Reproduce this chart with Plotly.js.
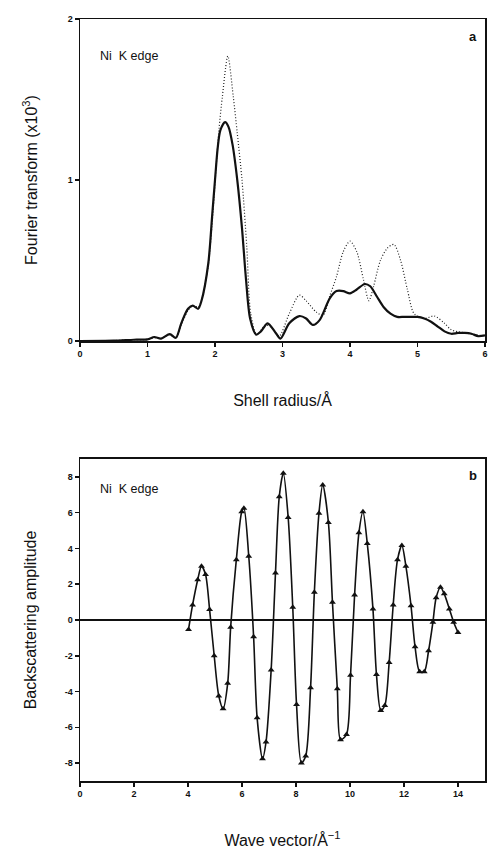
<!DOCTYPE html>
<html>
<head>
<meta charset="utf-8">
<script src="https://cdn.plot.ly/plotly-3.0.1.min.js"></script>
<style>
html,body{margin:0;padding:0;background:#fff;}
#chart{width:488px;height:849px;}
</style>
</head>
<body>
<div id="chart"></div>
<script>
// Panel a: Fourier transform vs shell radius
var solidR = [0, 0.5, 0.8, 1.0, 1.1, 1.2, 1.33, 1.42, 1.5, 1.6, 1.67, 1.75, 1.8, 1.9, 1.96, 2.0, 2.04, 2.08, 2.15, 2.2, 2.26, 2.33, 2.4, 2.46, 2.52, 2.61, 2.68, 2.78, 2.9, 2.97, 3.1, 3.25, 3.35, 3.45, 3.55, 3.7, 3.8, 3.9, 4.0, 4.1, 4.22, 4.3, 4.4, 4.5, 4.6, 4.7, 4.8, 4.9, 5.0, 5.1, 5.2, 5.3, 5.4, 5.5, 5.6, 5.7, 5.8, 5.9, 6.0];
var solidF = [0, 0.002, 0.008, 0.01, 0.025, 0.015, 0.043, 0.02, 0.11, 0.2, 0.22, 0.2, 0.25, 0.48, 0.79, 1.0, 1.2, 1.31, 1.36, 1.33, 1.22, 1.0, 0.7, 0.38, 0.14, 0.04, 0.06, 0.11, 0.05, 0.015, 0.11, 0.155, 0.14, 0.10, 0.13, 0.265, 0.31, 0.31, 0.296, 0.32, 0.354, 0.34, 0.275, 0.21, 0.17, 0.15, 0.15, 0.15, 0.15, 0.14, 0.12, 0.09, 0.06, 0.045, 0.05, 0.05, 0.045, 0.03, 0.035];
var dotR = [0, 0.5, 0.8, 1.0, 1.1, 1.2, 1.33, 1.42, 1.5, 1.6, 1.67, 1.75, 1.8, 1.9, 1.97, 2.02, 2.06, 2.11, 2.19, 2.27, 2.33, 2.40, 2.47, 2.53, 2.62, 2.75, 2.85, 2.95, 3.1, 3.25, 3.35, 3.5, 3.6, 3.7, 3.8, 3.9, 4.0, 4.1, 4.2, 4.28, 4.35, 4.45, 4.55, 4.65, 4.75, 4.85, 4.95, 5.1, 5.25, 5.4, 5.5, 5.7, 5.85, 6.0];
var dotF = [0, 0.003, 0.008, 0.01, 0.02, 0.015, 0.04, 0.02, 0.1, 0.19, 0.22, 0.21, 0.25, 0.47, 0.8, 1.1, 1.32, 1.52, 1.77, 1.52, 1.29, 1.0, 0.59, 0.17, 0.04, 0.1, 0.08, 0.03, 0.17, 0.285, 0.25, 0.18, 0.16, 0.28, 0.40, 0.555, 0.62, 0.555, 0.38, 0.25, 0.34, 0.50, 0.575, 0.60, 0.50, 0.32, 0.17, 0.14, 0.155, 0.11, 0.07, 0.05, 0.04, 0.03];

// Panel b: backscattering amplitude vs wave vector
var waveK = [4.02, 4.17, 4.36, 4.50, 4.65, 4.80, 4.97, 5.14, 5.30, 5.47, 5.58, 5.79, 5.99, 6.07, 6.25, 6.43, 6.56, 6.76, 6.89, 7.08, 7.24, 7.38, 7.53, 7.71, 7.88, 8.02, 8.20, 8.36, 8.54, 8.68, 8.85, 8.99, 9.20, 9.35, 9.53, 9.65, 9.87, 10.02, 10.17, 10.33, 10.48, 10.64, 10.85, 10.98, 11.14, 11.29, 11.45, 11.60, 11.76, 11.92, 12.07, 12.26, 12.41, 12.58, 12.75, 12.91, 13.07, 13.19, 13.35, 13.49, 13.68, 13.84, 14.0];
var ampB = [-0.53, 0.84, 2.25, 3.01, 2.54, 0.58, -2.0, -4.25, -4.96, -3.54, -0.4, 3.37, 6.05, 6.25, 3.56, -0.94, -5.47, -7.75, -6.82, -2.79, 2.62, 6.89, 8.2, 5.73, 0.71, -4.72, -8.0, -7.6, -3.79, 1.55, 5.96, 7.55, 5.45, 0.99, -3.84, -6.69, -6.4, -3.09, 1.4, 4.87, 6.05, 4.27, 0.62, -3.04, -5.06, -4.78, -2.38, 0.84, 3.37, 4.17, 3.01, 0.79, -1.5, -2.89, -2.89, -1.72, -0.13, 1.24, 1.83, 1.46, 0.62, -0.13, -0.7];

var xTicksA = [0, 1, 2, 3, 4, 5, 6];
var yTicksA = [0, 1, 2];
var xTicksB = [0, 2, 4, 6, 8, 10, 12, 14];
var yTicksB = [-8, -6, -4, -2, 0, 2, 4, 6, 8];

var FONT = 'Liberation Sans, Arial, sans-serif';
var tickFont = {family: FONT, size: 9, color: '#111', weight: 'bold'};
var titleFont = {family: FONT, size: 16, color: '#111'};

var traces = [
  {x: dotR, y: dotF, xaxis: 'x', yaxis: 'y', mode: 'lines',
   line: {color: '#222', width: 1.2, dash: '1px,2px', shape: 'spline', smoothing: 0.8}, showlegend: false},
  {x: solidR, y: solidF, xaxis: 'x', yaxis: 'y', mode: 'lines',
   line: {color: '#111', width: 2.2, shape: 'spline', smoothing: 0.8}, showlegend: false},
  {x: waveK, y: ampB, xaxis: 'x2', yaxis: 'y2', mode: 'lines+markers',
   line: {color: '#111', width: 1.6, shape: 'spline', smoothing: 0.8},
   marker: {symbol: 'triangle-up', size: 6, color: '#111'}, showlegend: false}
];

var axCommon = {
  showline: true, linecolor: '#111', linewidth: 1.5, mirror: true,
  ticks: 'outside', ticklen: 4, tickwidth: 1.5, tickcolor: '#111',
  showgrid: false, zeroline: false, tickfont: tickFont
};

var layout = {
  width: 488, height: 849,
  margin: {l: 80, r: 3, t: 19, b: 68},
  paper_bgcolor: '#fff', plot_bgcolor: '#fff',
  xaxis: Object.assign({}, axCommon, {
    domain: [0, 1], anchor: 'y', range: [0, 6], tickvals: xTicksA, ticktext: xTicksA.map(String),
    title: {text: 'Shell radius/Å', font: titleFont, standoff: 36}
  }),
  yaxis: Object.assign({}, axCommon, {
    domain: [0.5774, 1], anchor: 'x', range: [0, 2], tickvals: yTicksA, ticktext: yTicksA.map(String),
    title: {text: 'Fourier transform (x10<sup>3</sup>)', font: titleFont, standoff: 26}
  }),
  xaxis2: Object.assign({}, axCommon, {
    domain: [0, 1], anchor: 'y2', range: [0, 15], tickvals: xTicksB, ticktext: xTicksB.map(String),
    title: {text: 'Wave vector/Å<sup>−1</sup>', font: titleFont, standoff: 40}
  }),
  yaxis2: Object.assign({}, axCommon, {
    domain: [0, 0.4226], anchor: 'x2', range: [-9, 9], tickvals: yTicksB, ticktext: yTicksB.map(String),
    zeroline: true, zerolinecolor: '#111', zerolinewidth: 1.5,
    title: {text: 'Backscattering amplitude', font: titleFont, standoff: 24}
  }),
  annotations: [
    {xref: 'x', yref: 'y', x: 0.27, y: 1.77, text: 'Ni  K edge', showarrow: false, xanchor: 'left',
     font: {family: FONT, size: 12.5, color: '#111'}},
    {xref: 'paper', yref: 'y', x: 0.985, y: 1.89, text: 'a', showarrow: false, xanchor: 'right',
     font: {family: FONT, size: 13, color: '#111', weight: 'bold'}},
    {xref: 'x2', yref: 'y2', x: 0.67, y: 7.3, text: 'Ni  K edge', showarrow: false, xanchor: 'left',
     font: {family: FONT, size: 12.5, color: '#111'}},
    {xref: 'paper', yref: 'y2', x: 0.985, y: 8.1, text: 'b', showarrow: false, xanchor: 'right',
     font: {family: FONT, size: 13, color: '#111', weight: 'bold'}}
  ]
};

Plotly.newPlot('chart', traces, layout, {staticPlot: true, displayModeBar: false});
</script>
</body>
</html>
